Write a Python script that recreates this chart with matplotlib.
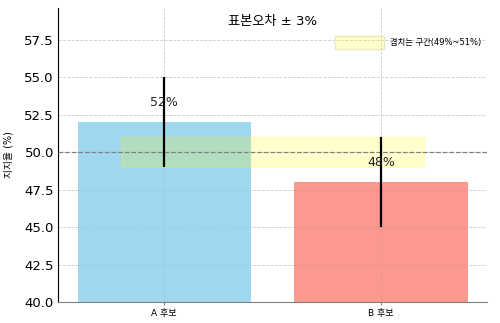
import matplotlib
matplotlib.use("Agg")
import matplotlib.pyplot as plt

plt.rcParams['font.family'] = ['DejaVu Sans', 'Noto Sans CJK KR']
plt.rcParams['axes.unicode_minus'] = False

# data
candidates = ['A 후보', 'B 후보']
support = [52, 48]
margin = [3, 3]
colors = ['skyblue', 'salmon']
overlap_low = 49
overlap_high = 51
overlap_x = [-0.2, 1.2]


def main():
    fig = plt.figure(figsize=(5, 3.23), dpi=100)
    ax = fig.add_axes([0.116, 0.065, 0.858, 0.91])

    x = range(len(candidates))
    ax.bar(x, support, color=colors, alpha=0.8, width=0.8, zorder=2)
    ax.errorbar(x, support, yerr=margin, fmt='none', ecolor='black',
                elinewidth=1.6, capsize=0, zorder=4)

    # overlapping part of the confidence intervals
    ax.fill_between(overlap_x, overlap_low, overlap_high, color='yellow',
                    alpha=0.2, zorder=3, label='겹치는 구간(49%~51%)')
    ax.axhline(50, color='gray', linestyle='--', linewidth=0.9, zorder=3)

    # value labels
    for i, v in enumerate(support):
        ax.text(i, v + 0.85, f'{v}%', ha='center', va='bottom', fontsize=9,
                color='#222222', zorder=5)

    ax.set_ylim(40, 59.6)
    ax.set_yticks([40, 42.5, 45, 47.5, 50, 52.5, 55, 57.5])
    ax.set_xticks(list(x))
    ax.set_xticklabels(candidates, fontsize=6.5)
    ax.tick_params(axis='y', labelsize=9.5, length=0, pad=3)
    ax.tick_params(axis='x', length=2, pad=3, color='gray')
    ax.set_ylabel('지지율 (%)', fontsize=7, labelpad=8)

    ax.grid(True, linestyle='--', linewidth=0.6, color='#cccccc', zorder=0)
    ax.set_axisbelow(True)
    for s in ['top', 'right']:
        ax.spines[s].set_visible(False)
    ax.spines['bottom'].set_color('gray')
    ax.spines['left'].set_color('black')

    ax.text(0.5, 0.955, '표본오차 ± 3%', transform=ax.transAxes,
            ha='center', va='center', fontsize=9.5)

    leg = ax.legend(loc='upper right', bbox_to_anchor=(1.005, 0.93),
                    frameon=False, fontsize=6, handlelength=5.8,
                    handleheight=2.0, handletextpad=0.8)
    for h in leg.legend_handles:
        h.set_edgecolor('#e8e8c0')

    plt.savefig('out.png', dpi=100)


if __name__ == '__main__':
    main()
